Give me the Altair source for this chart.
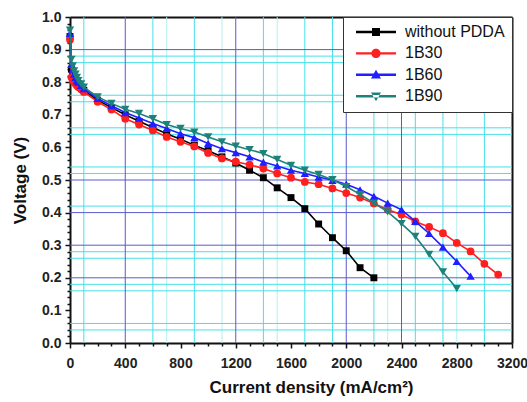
import altair as alt
import pandas as pd

# ---------------- data ----------------
series_names = ["without PDDA", "1B30", "1B60", "1B90"]
series_colors = ["#000000", "#ff1f1f", "#1f1fff", "#1f827a"]
series_markers = ["square", "circle", "triangle-up", "triangle-down"]
series_sizes = [48, 60, 70, 70]

current_without = [0, 10, 20, 30, 40, 50, 60, 80, 100, 200, 300, 400, 500, 600, 700, 800,
                   900, 1000, 1100, 1200, 1300, 1400, 1500, 1600, 1700, 1800, 1900, 2000,
                   2100, 2200]
voltage_without = [0.94, 0.84, 0.825, 0.815, 0.81, 0.80, 0.795, 0.785, 0.775, 0.745, 0.722,
                   0.700, 0.680, 0.661, 0.642, 0.625, 0.607, 0.590, 0.571, 0.552, 0.530,
                   0.507, 0.476, 0.446, 0.412, 0.365, 0.323, 0.283, 0.231, 0.200]

current_1b30 = [0, 10, 20, 30, 40, 50, 60, 80, 100, 200, 300, 400, 500, 600, 700, 800, 900,
                1000, 1100, 1200, 1300, 1400, 1500, 1600, 1700, 1800, 1900, 2000, 2100, 2200,
                2300, 2400, 2500, 2600, 2700, 2800, 2900, 3000, 3100]
voltage_1b30 = [0.93, 0.815, 0.805, 0.80, 0.795, 0.79, 0.785, 0.778, 0.770, 0.740, 0.716,
                0.688, 0.670, 0.652, 0.632, 0.617, 0.603, 0.583, 0.566, 0.556, 0.547, 0.535,
                0.520, 0.507, 0.494, 0.487, 0.474, 0.460, 0.446, 0.428, 0.409, 0.394, 0.373,
                0.356, 0.337, 0.307, 0.281, 0.243, 0.210]

current_1b60 = [0, 10, 20, 30, 40, 50, 60, 80, 100, 200, 300, 400, 500, 600, 700, 800, 900,
                1000, 1100, 1200, 1300, 1400, 1500, 1600, 1700, 1800, 1900, 2000, 2100, 2200,
                2300, 2400, 2500, 2600, 2700, 2800, 2900]
voltage_1b60 = [0.95, 0.855, 0.84, 0.825, 0.815, 0.805, 0.80, 0.79, 0.780, 0.750, 0.728,
                0.707, 0.690, 0.673, 0.658, 0.642, 0.630, 0.612, 0.596, 0.584, 0.571, 0.555,
                0.543, 0.530, 0.520, 0.509, 0.499, 0.487, 0.470, 0.450, 0.429, 0.409, 0.373,
                0.336, 0.294, 0.250, 0.205]

current_1b90 = [0, 10, 20, 30, 40, 50, 60, 80, 100, 200, 300, 400, 500, 600, 700, 800, 900,
                1000, 1100, 1200, 1300, 1400, 1500, 1600, 1700, 1800, 1900, 2000, 2100, 2200,
                2300, 2400, 2500, 2600, 2700, 2800]
voltage_1b90 = [0.96, 0.87, 0.85, 0.835, 0.825, 0.815, 0.805, 0.795, 0.785, 0.755, 0.735,
                0.717, 0.704, 0.688, 0.670, 0.658, 0.647, 0.632, 0.617, 0.604, 0.593, 0.581,
                0.563, 0.545, 0.530, 0.517, 0.501, 0.480, 0.456, 0.429, 0.402, 0.366, 0.327,
                0.272, 0.218, 0.167]

x_ticks = [0, 400, 800, 1200, 1600, 2000, 2400, 2800, 3200]
x_minor = [v for v in range(0, 3201, 100) if v % 400]
y_ticks = [0.0, 0.1, 0.2, 0.3, 0.4, 0.5, 0.6, 0.7, 0.8, 0.9, 1.0]
y_minor = [round(i * 0.02, 2) for i in range(51) if i % 5]

grid_x_dark = [400, 1200, 2000, 2400]
grid_x_cyan = [100, 600, 900, 1400, 1700, 1900, 2200, 2500, 2700, 3000]
grid_x_light = [700, 1100, 1500, 2300, 2800]
grid_y_dark = [0.9, 0.5, 0.4, 0.3, 0.2]
grid_y_cyan = [0.88, 0.86, 0.76, 0.74, 0.66, 0.64, 0.54, 0.52, 0.42, 0.28, 0.26, 0.18,
               0.16, 0.06, 0.04]

series_current = [current_without, current_1b30, current_1b60, current_1b90]
series_voltage = [voltage_without, voltage_1b30, voltage_1b60, voltage_1b90]

rows = []
for name, cs, vs in zip(series_names, series_current, series_voltage):
    for c, v in zip(cs, vs):
        rows.append({"series": name, "current": c, "voltage": v})
df = pd.DataFrame(rows)

# legend symbols: line segment + marker (custom SVG paths, unit = half symbol width)
line_path = "M-1,-0.06H1V0.06H-1Z"
legend_paths = [
    line_path + "M-0.2,-0.2H0.2V0.2H-0.2Z",
    line_path + "M0.23,0A0.23,0.23,0,1,1,-0.23,0A0.23,0.23,0,1,1,0.23,0Z",
    line_path + "M0,-0.25L0.25,0.18L-0.25,0.18Z",
    line_path + "M0,0.25L0.25,-0.18L-0.25,-0.18Z",
]

FONT = "Liberation Sans"
xscale = alt.Scale(domain=[0, 3200], nice=False, zero=False)
yscale = alt.Scale(domain=[0, 1], nice=False, zero=False)


def vgrid(vals, color, width=1.0):
    d = pd.DataFrame({"gx": vals})
    return alt.Chart(d).mark_rule(color=color, strokeWidth=width).encode(
        x=alt.X("gx:Q", scale=xscale, axis=None))


def hgrid(vals, color, width=1.0):
    d = pd.DataFrame({"gy": vals})
    return alt.Chart(d).mark_rule(color=color, strokeWidth=width).encode(
        y=alt.Y("gy:Q", scale=yscale, axis=None))


grid_layers = [
    vgrid(grid_x_light, "#b5f0f3"),
    vgrid(grid_x_cyan, "#45e0e8"),
    hgrid(grid_y_cyan, "#45e0e8"),
    vgrid(grid_x_dark, "#5a5ad0"),
    hgrid(grid_y_dark, "#5a5ad0"),
]

# minor tick axes
x_minor_layer = alt.Chart(pd.DataFrame({"mx": x_minor})).mark_rule(opacity=0).encode(
    x=alt.X("mx:Q", scale=xscale,
            axis=alt.Axis(orient="bottom", values=x_minor, labels=False, title=None,
                          domain=False, grid=False, tickSize=3, tickWidth=1.5,
                          tickColor="#111")))
y_minor_layer = alt.Chart(pd.DataFrame({"my": y_minor})).mark_rule(opacity=0).encode(
    y=alt.Y("my:Q", scale=yscale,
            axis=alt.Axis(orient="left", values=y_minor, labels=False, title=None,
                          domain=False, grid=False, tickSize=3, tickWidth=1.5,
                          tickColor="#111")))

# frame (top and right borders) as domain-only axes
frame_layer = alt.Chart(pd.DataFrame({"fx": x_ticks[:2], "fy": y_ticks[:2]})).mark_rule(
    opacity=0).encode(
    x=alt.X("fx:Q", scale=xscale,
            axis=alt.Axis(orient="top", labels=False, ticks=False, title=None, grid=False,
                          domainColor="#111", domainWidth=2)),
    y=alt.Y("fy:Q", scale=yscale,
            axis=alt.Axis(orient="right", labels=False, ticks=False, title=None,
                          grid=False, domainColor="#111", domainWidth=2)),
)

x_axis = alt.Axis(orient="bottom", values=x_ticks, format="d",
                  title="Current density (mA/cm²)", grid=False,
                  tickSize=5, tickWidth=1.5, tickColor="#111", domainColor="#111",
                  domainWidth=2, labelFont=FONT, labelFontSize=14, labelFontWeight="bold",
                  labelColor="#222", labelPadding=8, labelFlush=False, titleFont=FONT,
                  titleFontSize=17, titleFontWeight="bold", titleColor="#111",
                  titlePadding=9, titleX=241)
y_axis = alt.Axis(orient="left", values=y_ticks, format=".1f", title="Voltage (V)",
                  grid=False,
                  tickSize=5, tickWidth=1.5, tickColor="#111", domainColor="#111",
                  domainWidth=2, labelFont=FONT, labelFontSize=14, labelFontWeight="bold",
                  labelColor="#222", labelPadding=4, labelFlush=False, titleFont=FONT,
                  titleFontSize=17, titleFontWeight="bold", titleColor="#111",
                  titlePadding=12)

series_layers = []
for i, (name, color, marker, msize) in enumerate(
        zip(series_names, series_colors, series_markers, series_sizes)):
    sub = df[df["series"] == name]
    if i == 0:
        xe = alt.X("current:Q", scale=xscale, axis=x_axis)
        ye = alt.Y("voltage:Q", scale=yscale, axis=y_axis)
    else:
        xe = alt.X("current:Q", scale=xscale, axis=None)
        ye = alt.Y("voltage:Q", scale=yscale, axis=None)
    line = alt.Chart(sub).mark_line(color=color, strokeWidth=1.6).encode(x=xe, y=ye)
    pts = alt.Chart(sub).mark_point(shape=marker, filled=True, color=color, size=msize,
                                    opacity=1).encode(
        x=alt.X("current:Q", scale=xscale, axis=None),
        y=alt.Y("voltage:Q", scale=yscale, axis=None))
    series_layers += [line, pts]

legend_props = dict(title=None, orient="top-right", offset=0, padding=7,
                    fillColor="white", strokeColor="#333", symbolSize=1600,
                    symbolStrokeWidth=0, symbolOpacity=1, symbolOffset=6,
                    clipHeight=16, rowPadding=5.4, labelOffset=9, labelFont=FONT,
                    labelFontSize=16, labelColor="#111", labelLimit=300)

legend_layer = alt.Chart(df).mark_point(filled=True, opacity=0).encode(
    x=alt.X("current:Q", scale=xscale, axis=None),
    y=alt.Y("voltage:Q", scale=yscale, axis=None),
    color=alt.Color("series:N", scale=alt.Scale(domain=series_names, range=series_colors),
                    legend=alt.Legend(**legend_props)),
    shape=alt.Shape("series:N", scale=alt.Scale(domain=series_names, range=legend_paths),
                    legend=alt.Legend(**legend_props)),
)

chart = alt.layer(*grid_layers, x_minor_layer, y_minor_layer, frame_layer, *series_layers,
                  legend_layer).resolve_axis(
    x="independent", y="independent"
).properties(
    width=442, height=326,
    padding={"left": 70, "top": 17, "right": 15, "bottom": 59},
    autosize=alt.AutoSizeParams(type="none"),
).configure_view(stroke="#111", strokeWidth=2).configure(font=FONT, background="white")

chart.save("out.html", embed_options={"renderer": "svg", "actions": False})
